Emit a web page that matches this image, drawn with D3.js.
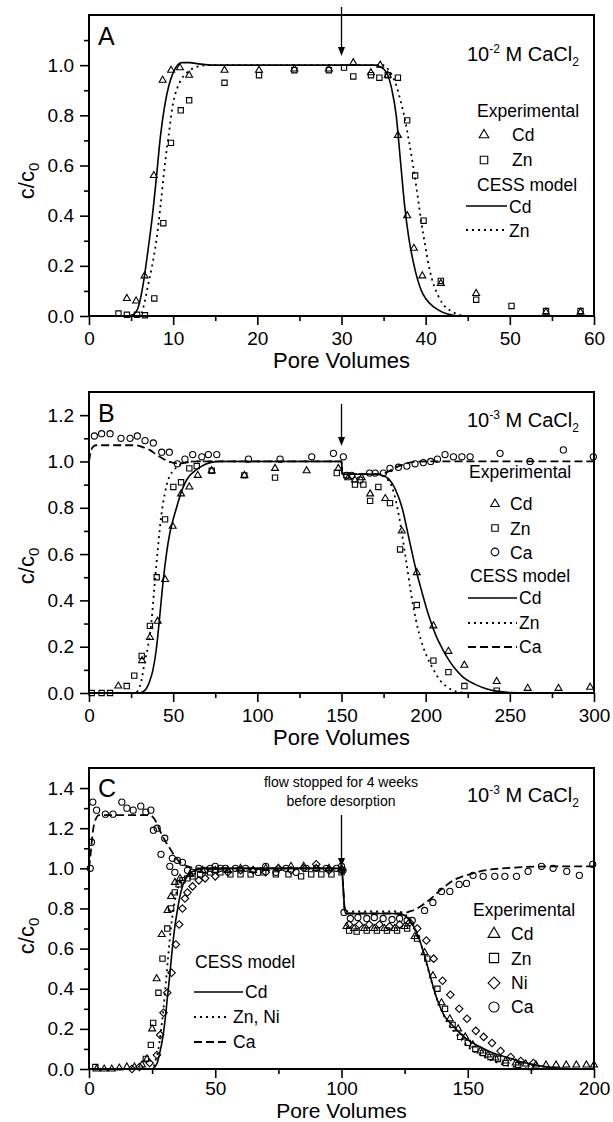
<!DOCTYPE html>
<html>
<head>
<meta charset="utf-8">
<script src="https://cdn.jsdelivr.net/npm/d3@7"></script>
<style>
body { margin: 0; background: #fff; }
svg { display: block; font-family: "Liberation Sans", Arial, Helvetica, sans-serif; }
</style>
</head>
<body>
<div class="chart"></div>
<script>
// ---- panel A : 10^-2 M CaCl2 ----
var aXTicks = [0, 10, 20, 30, 40, 50, 60];
var aYTicks = [0, 0.2, 0.4, 0.6, 0.8, 1.0];
var aCdExp = [[4.5,0.07],[5.6,0.06],[6.6,0.16],[7.7,0.56],[8.75,0.94],[9.75,0.98],[10.8,0.99],[11.9,0.96],
  [16.1,0.98],[20.2,0.98],[24.4,0.985],[28.5,0.985],[31.4,1.01],[33.5,0.97],[34.6,1.0],[35.5,0.96],
  [36.7,0.72],[37.8,0.4],[38.6,0.27],[39.6,0.16],[41.8,0.13],[46,0.09],[54.3,0.015],[58.4,0.015]];
var aZnExp = [[3.5,0.01],[4.5,0.005],[5.7,0.005],[6.65,0.003],[7.76,0.07],[8.83,0.37],[9.74,0.69],[10.9,0.82],
  [11.9,0.86],[16.1,0.93],[20.2,0.96],[24.4,0.98],[28.5,0.98],[30.3,0.99],[31.4,0.955],[33.5,0.96],
  [34.5,0.95],[35.5,0.96],[36.7,0.95],[37.8,0.78],[38.75,0.56],[39.75,0.38],[41.8,0.14],[46,0.065],
  [50.2,0.04],[54.3,0.02],[58.4,0.02]];
var aCdModel = [[0,0],[4.5,0],[5.2,0.005],[5.8,0.03],[6.5,0.14],[7,0.26],[7.5,0.39],[8,0.55],[8.5,0.72],
  [9,0.84],[9.5,0.92],[10,0.97],[10.5,1.0],[11,1.01],[12,1.01],[13,1.005],[15,1.0],[34,1.0],[34.5,0.995],
  [35,0.985],[35.5,0.96],[36,0.9],[36.5,0.8],[37,0.62],[37.5,0.44],[38,0.31],[38.5,0.22],[39,0.15],
  [39.5,0.1],[40,0.07],[41,0.035],[42,0.015],[43,0.005],[44,0],[60,0]];
var aZnModel = [[0,0],[6,0],[6.5,0.04],[7,0.12],[7.5,0.2],[8,0.3],[8.5,0.44],[9,0.6],[9.5,0.73],[10,0.85],
  [10.5,0.91],[11,0.945],[12,0.98],[13,0.995],[14,1.0],[35,1.0],[35.5,0.985],[36,0.96],[36.5,0.92],
  [37,0.86],[37.5,0.79],[38,0.7],[38.5,0.6],[39,0.49],[39.5,0.37],[40,0.27],[40.5,0.18],[41,0.12],
  [41.5,0.08],[42,0.05],[43,0.02],[44,0.005],[45,0],[60,0]];

// ---- panel B : 10^-3 M CaCl2 ----
var bXTicks = [0, 50, 100, 150, 200, 250, 300];
var bYTicks = [0, 0.2, 0.4, 0.6, 0.8, 1.0, 1.2];
var bCdExp = [[17.4,0.03],[31.5,0.14],[36.2,0.24],[40.8,0.31],[45.2,0.49],[49.7,0.72],[54.7,0.86],[59.6,0.89],
  [64.6,0.94],[72.9,0.96],[92.3,0.94],[110.5,0.97],[129.3,0.96],[148.1,0.97],[154,0.93],[158,0.92],
  [162,0.93],[167,0.86],[176,0.84],[185.8,0.7],[194.7,0.52],[204.6,0.29],[213.5,0.18],[223,0.12],
  [242.2,0.05],[260.6,0.02],[278.9,0.02],[297.7,0.025]];
var bZnExp = [[1.6,0.0],[7.5,0.0],[12.5,0.0],[22.4,0.03],[26.9,0.075],[31.3,0.16],[36.2,0.29],[40.2,0.5],
  [45.2,0.75],[50.1,0.89],[54.7,0.91],[59.6,0.97],[64,0.98],[72.9,0.96],[92.3,0.94],[110.5,0.93],
  [147.2,0.95],[153,0.94],[158,0.9],[163,0.9],[167,0.83],[171.9,0.89],[178.8,0.82],[184.8,0.62],
  [194.7,0.38],[204.6,0.14],[213.5,0.09],[223,0.03],[242.2,0.01]];
var bCaExp = [[3.2,1.11],[7.5,1.12],[12.5,1.12],[19,1.1],[24.4,1.1],[28.7,1.11],[33.3,1.09],[38.2,1.08],
  [43.2,1.04],[47.7,1.04],[52.5,0.99],[57,1.01],[61.6,1.03],[67,1.02],[70.9,1.03],[75.9,1.03],
  [94.7,1.01],[113.5,1.01],[132.3,1.02],[145.2,1.035],[151.1,1.02],[153,0.94],[156,0.94],[161,0.92],
  [166.7,0.95],[170,0.95],[174.9,0.95],[178.8,0.97],[183.8,0.975],[188.8,0.98],[193.7,0.99],
  [198.6,0.995],[203,1.0],[207,1.01],[211.5,1.03],[216.5,1.02],[221.5,1.02],[226.4,1.02],
  [244.2,1.035],[262,1.0],[281.8,1.05],[299.6,1.02]];
var bCdModel = [[0,0],[30,0],[33,0.01],[36,0.05],[38,0.1],[40,0.19],[42,0.33],[44,0.48],[46,0.6],[48,0.69],
  [50,0.75],[52,0.8],[54,0.85],[56,0.89],[58,0.92],[60,0.94],[63,0.96],[67,0.98],[72,0.995],[78,1.0],
  [150,1.0],[150.5,0.945],[170,0.945],[174,0.94],[178,0.925],[182,0.88],[186,0.8],[190,0.67],[194,0.54],
  [198,0.43],[202,0.33],[206,0.25],[210,0.19],[214,0.14],[218,0.1],[222,0.07],[226,0.05],[230,0.035],
  [236,0.018],[242,0.008],[250,0.002],[260,0],[300,0]];
var bZnModel = [[0,0],[27,0],[29,0.01],[31,0.05],[33,0.13],[35,0.2],[37,0.3],[39,0.47],[41,0.63],[43,0.77],
  [45,0.86],[47,0.92],[50,0.96],[53,0.98],[57,0.995],[62,1.0],[150,1.0],[150.5,0.945],[172,0.945],
  [176,0.93],[180,0.89],[184,0.77],[188,0.59],[192,0.4],[196,0.26],[200,0.17],[204,0.11],[208,0.06],
  [212,0.03],[216,0.012],[222,0.002],[228,0],[300,0]];
var bCaModel = [[0,1.0],[1,1.04],[2,1.06],[4,1.07],[28,1.07],[32,1.062],[36,1.05],[40,1.03],[44,1.012],
  [48,0.998],[52,0.992],[56,0.993],[60,0.998],[66,1.0],[150,1.0],[150.5,0.945],[172,0.945],[176,0.95],
  [180,0.965],[184,0.98],[188,0.99],[193,0.998],[200,1.0],[300,1.0]];

// ---- panel C : 10^-3 M CaCl2, flow stopped ----
var cXTicks = [0, 50, 100, 150, 200];
var cYTicks = [0, 0.2, 0.4, 0.6, 0.8, 1.0, 1.2, 1.4];
var cCdExp = [[3,0.0],[6,0.0],[9,0.0],[12,0.005],[15,0.01],[18,0.01],[21,0.02],[23,0.05],[25,0.2],
  [26.8,0.45],[28.8,0.67],[31.1,0.79],[32.5,0.86],[34,0.93],[36,0.95],[40,0.97],[45,0.99],[50,0.99],
  [55,0.99],[60,1.0],[65,0.99],[70,1.0],[75,1.0],[80,1.01],[85,1.01],[90,1.0],[95,1.0],[100,1.0],
  [102,0.71],[105,0.7],[109,0.7],[113,0.7],[117,0.7],[121,0.7],[125,0.71],[129,0.66],[132.9,0.58],
  [136.2,0.465],[139.6,0.33],[142.9,0.25],[146.2,0.2],[149,0.16],[152,0.12],[155,0.09],[158,0.07],
  [161,0.055],[165,0.04],[169,0.03],[173,0.025],[177,0.02],[181,0.02],[185,0.02],[189,0.02],
  [193,0.02],[197,0.02],[200,0.02]];
var cZnExp = [[2.5,0.01],[22.5,0.05],[24.5,0.12],[25.4,0.23],[27.5,0.38],[29.1,0.55],[31,0.7],[32.5,0.8],
  [34,0.88],[35.5,0.92],[37,0.94],[39,0.95],[41,0.96],[44,0.97],[48,0.98],[52,0.98],[56,0.97],
  [60,0.97],[64,0.97],[69,0.98],[74,0.97],[79,0.97],[84,0.96],[88,0.97],[92,0.97],[96,0.97],
  [100,0.98],[103,0.69],[106,0.685],[110,0.69],[114,0.69],[118,0.69],[122,0.69],[126,0.7],[129.9,0.65],
  [134,0.55],[138,0.4],[141,0.3],[144,0.22],[147,0.16],[150,0.13],[153,0.1],[156,0.08],[159,0.06],
  [162,0.05],[165,0.03],[170,0.02],[175,0.01]];
var cNiExp = [[17,0.0],[20,0.01],[24,0.03],[26.9,0.07],[28.2,0.17],[29.5,0.28],[31,0.38],[32.7,0.48],
  [34.4,0.62],[35.7,0.72],[37,0.8],[38,0.85],[39,0.88],[41,0.91],[43.5,0.94],[46,0.95],[50,0.96],
  [55,0.98],[60,0.99],[65,0.99],[70,0.98],[75,1.0],[80,0.99],[85,1.0],[90,1.02],[95,0.99],[100,0.99],
  [103,0.72],[107,0.72],[111,0.72],[115,0.72],[119,0.71],[123,0.72],[127,0.73],[130,0.7],[133.6,0.64],
  [136.5,0.55],[140,0.44],[143.1,0.37],[146.6,0.3],[149.7,0.25],[153.2,0.19],[156.3,0.16],[159.6,0.13],
  [163,0.09],[167,0.06],[171,0.04],[176,0.03]];
var cCaExp = [[0.5,1.0],[1,1.13],[1.5,1.33],[3,1.29],[6.5,1.27],[9.5,1.27],[13,1.33],[15,1.3],[17.5,1.29],
  [20.5,1.31],[22.5,1.28],[24.5,1.29],[25.5,1.19],[27,1.2],[28.5,1.07],[30,1.15],[32,1.01],[33,1.05],
  [34,0.98],[35,1.04],[37,1.03],[39,0.99],[41,0.98],[43.5,1.0],[46,0.99],[48,1.0],[50,1.01],[52,1.0],
  [54,1.0],[58,1.0],[62,1.0],[67,0.98],[70,1.01],[74,0.98],[78,1.0],[82,0.98],[86,1.0],[90,1.0],
  [94,1.0],[98,1.0],[100,1.01],[100.6,0.99],[101,0.78],[103.5,0.75],[106.5,0.755],[110,0.75],[113,0.755],
  [116.5,0.75],[120,0.745],[123,0.75],[126,0.74],[128,0.74],[132.9,0.79],[136.2,0.83],[139.6,0.885],
  [142.9,0.885],[146.6,0.92],[149.5,0.925],[152.1,0.965],[156.1,0.96],[160.7,0.96],[164.7,0.96],
  [169.3,0.96],[173.9,0.985],[179.2,1.01],[183.8,1.0],[189.2,0.985],[194.2,0.965],[199.5,1.02]];
var cCdModel = [[0,0],[25,0],[26,0.01],[27,0.03],[28,0.08],[29,0.14],[30,0.23],[31,0.35],[32,0.47],[33,0.6],
  [34,0.71],[35,0.79],[36,0.86],[37,0.91],[38,0.94],[39,0.96],[40,0.975],[42,0.99],[45,1.0],[100,1.0],
  [101.5,0.775],[120,0.775],[123,0.772],[125,0.765],[127,0.74],[129,0.7],[131,0.64],[133,0.56],[135,0.47],
  [137,0.38],[139,0.31],[141,0.26],[143,0.23],[146,0.19],[150,0.145],[155,0.11],[160,0.08],[165,0.06],
  [170,0.04],[175,0.025],[180,0.013],[185,0.006],[190,0.002],[200,0]];
var cZnNiModel = [[0,0],[24.5,0],[25.5,0.01],[26.5,0.05],[27.5,0.1],[28.5,0.19],[29.5,0.3],[30.5,0.44],
  [31.5,0.58],[32.5,0.71],[33.5,0.8],[34.5,0.87],[35.5,0.91],[37,0.945],[39,0.965],[42,0.985],[46,0.995],
  [50,1.0],[100,1.0],[101.5,0.785],[122,0.785],[124,0.78],[126,0.76],[128,0.73],[130,0.67],[132,0.6],
  [134,0.51],[136,0.42],[138,0.34],[140,0.28],[142,0.23],[145,0.18],[148,0.14],[151,0.1],[155,0.07],
  [160,0.04],[165,0.02],[170,0.008],[175,0.002],[180,0],[200,0]];
var cCaModel = [[0,1.0],[0.7,1.08],[1.5,1.18],[2.5,1.24],[4,1.265],[24,1.265],[26,1.245],[28,1.19],[30,1.14],
  [32,1.1],[34,1.06],[36,1.03],[39,1.01],[43,1.0],[100,1.0],[101.5,0.775],[124,0.775],[127,0.785],
  [130,0.8],[133,0.825],[136,0.855],[139,0.89],[142,0.92],[145,0.945],[148,0.96],[152,0.975],[156,0.988],
  [162,0.998],[170,1.005],[185,1.01],[200,1.01]];

var svgWidth = 613;
var svgHeight = 1122;
var plotLeft = 89;
var plotRight = 594;
var font = '"Liberation Sans", Arial, Helvetica, sans-serif';

var svg = d3.select(".chart")
    .append("svg")
    .attr("width", svgWidth)
    .attr("height", svgHeight);

var dotted = "2,4";
var dashed = "8,4";

function symbolPath(shape, size) {
    if (shape === "triangle") return d3.symbol(d3.symbolTriangle, size)();
    if (shape === "circle") return d3.symbol(d3.symbolCircle, size)();
    return d3.symbol(d3.symbolSquare, size)();
}

function addSymbol(g, shape, size, cx, cy) {
    g.append("path")
        .attr("d", symbolPath(shape, size))
        .attr("transform", `translate(${cx},${cy})` + (shape === "diamond" ? " rotate(45)" : ""))
        .attr("fill", "none")
        .attr("stroke", "#000")
        .attr("stroke-width", 1.1);
}

// text with super/subscripts: parts = [[text, shift, size]]
function richText(g, x, y, parts, size, anchor) {
    var t = g.append("text")
        .attr("x", x).attr("y", y)
        .attr("font-size", size)
        .attr("text-anchor", anchor || "start")
        .attr("fill", "#000");
    var prev = 0;
    parts.forEach(function (p) {
        var shift = p[1] || 0;
        t.append("tspan")
            .attr("dy", shift - prev)
            .attr("font-size", p[2] || size)
            .text(p[0]);
        prev = shift;
    });
    return t;
}

function drawPanel(p) {
    var x = d3.scaleLinear().domain([0, p.xMax]).range([plotLeft, plotRight]);
    var y = d3.scaleLinear().domain([0, p.yMax]).range([p.bottom, p.top]);
    var g = svg.append("g");

    // axes with major + minor ticks
    var bottomAxis = d3.axisBottom(x).tickValues(p.xTicks).tickSize(9).tickSizeOuter(0)
        .tickPadding(p.xPad).tickFormat(d3.format("d"));
    var bottomMinor = d3.axisBottom(x).tickValues(p.xMinor).tickSize(5).tickSizeOuter(0).tickFormat("");
    var leftAxis = d3.axisLeft(y).tickValues(p.yTicks).tickSize(9).tickSizeOuter(0)
        .tickPadding(6).tickFormat(d3.format(".1f"));
    var leftMinor = d3.axisLeft(y).tickValues(p.yMinor).tickSize(5).tickSizeOuter(0).tickFormat("");

    [[bottomAxis, true], [bottomMinor, true], [leftAxis, false], [leftMinor, false]].forEach(function (a) {
        var ag = g.append("g")
            .attr("transform", a[1] ? `translate(0,${p.bottom})` : `translate(${plotLeft},0)`)
            .call(a[0]);
        ag.select(".domain").remove();
        ag.attr("font-family", font).attr("font-size", 19);
        ag.selectAll("line").attr("stroke-width", 1.6);
    });

    g.append("rect")
        .attr("x", plotLeft).attr("y", p.top)
        .attr("width", plotRight - plotLeft).attr("height", p.bottom - p.top)
        .attr("fill", "none").attr("stroke", "#000").attr("stroke-width", 2);

    // model curves
    var line = d3.line()
        .x(d => x(d[0]))
        .y(d => y(d[1]))
        .curve(d3.curveMonotoneX);

    p.models.forEach(function (m) {
        g.append("path")
            .datum(m.data)
            .attr("d", line)
            .attr("fill", "none")
            .attr("stroke", "#000")
            .attr("stroke-width", m.dash ? 1.8 : 1.6)
            .attr("stroke-dasharray", m.dash);
    });

    // experimental points
    p.points.forEach(function (s) {
        s.data.forEach(function (d) {
            addSymbol(g, s.shape, s.size, x(d[0]), y(d[1]));
        });
    });

    // arrow
    var ax = x(p.arrowAt);
    g.append("line")
        .attr("x1", ax).attr("x2", ax)
        .attr("y1", p.arrowY[0]).attr("y2", p.arrowY[1] - 6)
        .attr("stroke", "#000").attr("stroke-width", 1.3);
    g.append("path")
        .attr("d", `M${ax - 3.5},${p.arrowY[1] - 9} L${ax + 3.5},${p.arrowY[1] - 9} L${ax},${p.arrowY[1]} Z`)
        .attr("fill", "#000");

    // panel letter
    g.append("text").attr("x", 98).attr("y", p.letterY)
        .attr("font-size", 25).text(p.letter);

    // salt annotation
    richText(g, 467, p.saltY, [["10"], [p.exp, -8, 12], [" M CaCl", 0], ["2", 5, 12]], 20);

    // axis titles
    g.append("text")
        .attr("x", (plotLeft + plotRight) / 2).attr("y", p.bottom + p.titleGap)
        .attr("text-anchor", "middle").attr("font-size", p.titleSize)
        .text("Pore Volumes");
    var yl = g.append("text")
        .attr("transform", `translate(34,${p.yLabelY}) rotate(-90)`)
        .attr("text-anchor", "middle").attr("font-size", 22);
    yl.append("tspan").text("c/c");
    yl.append("tspan").attr("font-size", 15).attr("dy", 5).text("0");

    // legend
    p.legend.forEach(function (it) {
        if (it.text) {
            g.append("text").attr("x", it.x).attr("y", it.y)
                .attr("font-size", 17.5).text(it.text);
        }
        if (it.shape) addSymbol(g, it.shape, it.size, it.sx, it.sy);
        if (it.line) {
            g.append("line")
                .attr("x1", it.line[0]).attr("x2", it.line[1])
                .attr("y1", it.line[2]).attr("y2", it.line[2])
                .attr("stroke", "#000").attr("stroke-width", it.dash ? 1.8 : 1.6)
                .attr("stroke-dasharray", it.dash);
        }
    });

    return g;
}

var minorX = (ticks, step) => ticks.slice(0, -1).map(t => t + step);
var minorY = (n) => d3.range(n).map(i => +(0.1 + 0.2 * i).toFixed(1));

drawPanel({
    top: 15, bottom: 316, xMax: 60, yMax: 1.2, titleGap: 52, titleSize: 22, xPad: 7,
    xTicks: aXTicks, xMinor: minorX(aXTicks, 5),
    yTicks: aYTicks, yMinor: minorY(6),
    models: [{ data: aCdModel }, { data: aZnModel, dash: dotted }],
    points: [
        { data: aCdExp, shape: "triangle", size: 21 },
        { data: aZnExp, shape: "square", size: 28 }
    ],
    arrowAt: 30, arrowY: [7, 56],
    letter: "A", letterY: 45, exp: "-2", saltY: 61, yLabelY: 181,
    legend: [
        { text: "Experimental", x: 477, y: 117 },
        { text: "Cd", x: 512, y: 141, shape: "triangle", size: 40, sx: 484, sy: 135 },
        { text: "Zn", x: 512, y: 166, shape: "square", size: 56, sx: 484, sy: 160 },
        { text: "CESS model", x: 477, y: 191 },
        { text: "Cd", x: 509, y: 213, line: [466, 507, 206] },
        { text: "Zn", x: 509, y: 237, line: [466, 507, 230], dash: dotted }
    ]
});

drawPanel({
    top: 392, bottom: 693, xMax: 300, yMax: 1.3, titleGap: 52, titleSize: 22, xPad: 7,
    xTicks: bXTicks, xMinor: minorX(bXTicks, 25),
    yTicks: bYTicks, yMinor: minorY(6),
    models: [{ data: bCdModel }, { data: bZnModel, dash: dotted }, { data: bCaModel, dash: dashed }],
    points: [
        { data: bCdExp, shape: "triangle", size: 21 },
        { data: bZnExp, shape: "square", size: 28 },
        { data: bCaExp, shape: "circle", size: 30 }
    ],
    arrowAt: 150, arrowY: [404, 446],
    letter: "B", letterY: 422, exp: "-3", saltY: 427, yLabelY: 566,
    legend: [
        { text: "Experimental", x: 469, y: 478 },
        { text: "Cd", x: 510, y: 510, shape: "triangle", size: 32, sx: 495, sy: 504 },
        { text: "Zn", x: 510, y: 535, shape: "square", size: 42, sx: 495, sy: 528 },
        { text: "Ca", x: 510, y: 559, shape: "circle", size: 46, sx: 495, sy: 552 },
        { text: "CESS model", x: 470, y: 582 },
        { text: "Cd", x: 519, y: 604, line: [468, 517, 598] },
        { text: "Zn", x: 519, y: 629, line: [468, 517, 623], dash: dotted },
        { text: "Ca", x: 519, y: 653, line: [468, 517, 647], dash: dashed }
    ]
});

var gC = drawPanel({
    top: 768, bottom: 1069, xMax: 200, yMax: 1.5, titleGap: 49, titleSize: 21, xPad: 4,
    xTicks: cXTicks, xMinor: minorX(cXTicks, 25),
    yTicks: cYTicks, yMinor: minorY(7),
    models: [{ data: cCdModel }, { data: cZnNiModel, dash: dotted }, { data: cCaModel, dash: dashed }],
    points: [
        { data: cCdExp, shape: "triangle", size: 21 },
        { data: cZnExp, shape: "square", size: 28 },
        { data: cNiExp, shape: "diamond", size: 28 },
        { data: cCaExp, shape: "circle", size: 30 }
    ],
    arrowAt: 100, arrowY: [815, 867],
    letter: "C", letterY: 797, exp: "-3", saltY: 802, yLabelY: 936,
    legend: [
        { text: "Experimental", x: 473, y: 916 },
        { text: "Cd", x: 511, y: 940, shape: "triangle", size: 60, sx: 494, sy: 934 },
        { text: "Zn", x: 511, y: 965, shape: "square", size: 85, sx: 494, sy: 958 },
        { text: "Ni", x: 511, y: 989, shape: "diamond", size: 70, sx: 494, sy: 983 },
        { text: "Ca", x: 511, y: 1013, shape: "circle", size: 80, sx: 494, sy: 1007 },
        { text: "CESS model", x: 195, y: 968 },
        { text: "Cd", x: 245, y: 998, line: [194, 243, 992] },
        { text: "Zn, Ni", x: 233, y: 1023, line: [194, 230, 1017], dash: dotted },
        { text: "Ca", x: 233, y: 1048, line: [194, 230, 1042], dash: dashed }
    ]
});

gC.append("text").attr("x", 341).attr("y", 787).attr("text-anchor", "middle")
    .attr("font-size", 14).text("flow stopped for 4 weeks");
gC.append("text").attr("x", 341).attr("y", 806).attr("text-anchor", "middle")
    .attr("font-size", 14).text("before desorption");
</script>
</body>
</html>
